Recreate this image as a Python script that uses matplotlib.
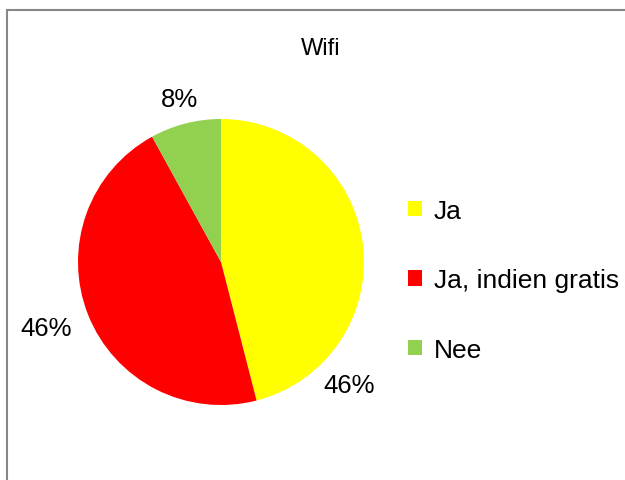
import matplotlib
matplotlib.use("Agg")
import matplotlib.pyplot as plt
from matplotlib.patches import Rectangle, Patch

plt.rcParams['font.family'] = ['Liberation Sans', 'DejaVu Sans']

categories = ["Ja", "Ja, indien gratis", "Nee"]
values = [46, 46, 8]
colors = ["#FFFF00", "#FF0000", "#92D050"]
title = "Wifi"

W, H = 625, 481
fig = plt.figure(figsize=(W / 100, H / 100), dpi=100)

# chart frame (extends past right and bottom edges)
fig.patches.append(Rectangle((7 / W, -0.2), 2.0, 1 - 11 / H + 0.2,
                             transform=fig.transFigure, fill=False,
                             edgecolor="#878787", linewidth=1.5))

cx, cy, r = 221, 263, 143
ax = fig.add_axes([(cx - r) / W, (H - cy - r) / H, 2 * r / W, 2 * r / H])
wedges, texts, autotexts = ax.pie(values, colors=colors, startangle=90,
                                  counterclock=False, autopct="%1.0f%%",
                                  wedgeprops=dict(linewidth=0),
                                  textprops=dict(fontsize=18.5, color="black"))
ax.set_xlim(-1, 1)
ax.set_ylim(-1, 1)
ax.set_aspect("equal")
ax.axis("off")

label_pos = [(0.895, -0.86), (-1.22, -0.46), (-0.29, 1.14)]
for t, (x, y) in zip(autotexts, label_pos):
    t.set_position((x, y))
    t.set_ha("center")
    t.set_va("center")

fig.text(321 / W, 1 - 49 / H, title, ha="center", va="center", fontsize=17)

handles = [Patch(facecolor=c, edgecolor="none") for c in colors]
fig.legend(handles, categories, loc="upper left",
           bbox_to_anchor=(408 / W, 1 - 200 / H), frameon=False,
           fontsize=19, handlelength=0.52, handleheight=0.52,
           handletextpad=0.45, labelspacing=1.72, borderpad=0,
           borderaxespad=0)

fig.savefig("out.png", dpi=100, facecolor="white")
